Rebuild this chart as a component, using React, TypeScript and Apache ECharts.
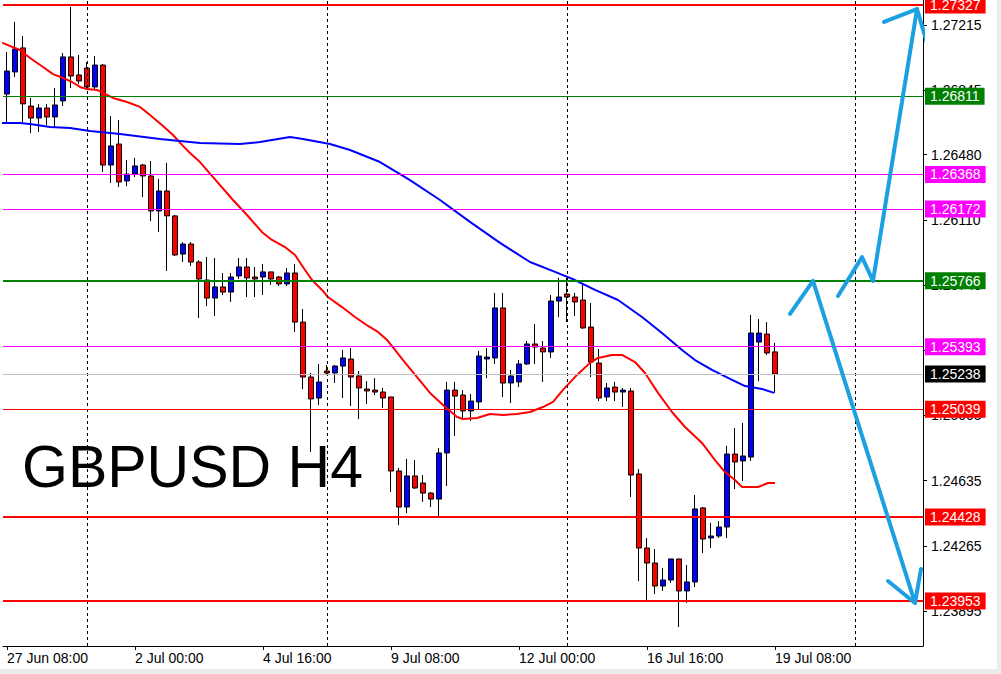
import React, { useEffect, useRef } from "react";
import * as echarts from "echarts";

// ---------- data ----------
const barCount = 115; // bar slots on the time axis (97 real bars + future space)
const xTickIdx = [0, 16, 32, 48, 64, 80, 96];
const xTickLabels = ["27 Jun 08:00", "2 Jul 00:00", "4 Jul 16:00", "9 Jul 08:00", "12 Jul 00:00", "16 Jul 16:00", "19 Jul 08:00"];
const gridLineIdx = [10, 40, 70, 106];
const yTickValues = [1.27215, 1.26845, 1.2648, 1.2611, 1.2574, 1.25375, 1.25005, 1.24635, 1.24265, 1.23895];

const opens = [
  1.26823, 1.26948, 1.27084, 1.26755, 1.26687, 1.26744, 1.26693, 1.26784, 1.27033, 1.26931,
  1.2697, 1.26863, 1.26987, 1.26421, 1.2654, 1.26331, 1.2637, 1.26421, 1.26359, 1.26161,
  1.26274, 1.26133, 1.25917, 1.25974, 1.25872, 1.2577, 1.25668, 1.25731, 1.25702, 1.25793,
  1.25844, 1.25787, 1.25787, 1.25816, 1.25787, 1.25748, 1.2581, 1.25532, 1.25221, 1.25102,
  1.25255, 1.25244, 1.25283, 1.25323, 1.25227, 1.25153, 1.25147, 1.25136, 1.25108, 1.24689,
  1.24485, 1.24661, 1.24621, 1.24564, 1.2453, 1.24791, 1.25147, 1.25119, 1.25029, 1.2508,
  1.25323, 1.25329, 1.25612, 1.25187, 1.25193, 1.25295, 1.25408, 1.25385, 1.25363, 1.25651,
  1.25691, 1.25674, 1.25657, 1.25504, 1.253, 1.25108, 1.25164, 1.25136, 1.25142, 1.24672,
  1.24253, 1.24168, 1.24038, 1.24072, 1.24191, 1.2401, 1.24061, 1.2448, 1.2431, 1.24321,
  1.24372, 1.24785, 1.24746, 1.24768, 1.25419, 1.25464, 1.25363,
];
const highs = [
  1.27061, 1.27231, 1.27152, 1.26801, 1.26767, 1.26767, 1.26857, 1.27055, 1.27316, 1.27044,
  1.27004, 1.27038, 1.26993, 1.26699, 1.26676, 1.26449, 1.26461, 1.26427, 1.26444, 1.26342,
  1.26433, 1.26138, 1.25985, 1.25985, 1.25883, 1.259, 1.25895, 1.2581, 1.2581, 1.25895,
  1.25895, 1.25844, 1.25861, 1.25816, 1.25793, 1.25838, 1.25861, 1.25606, 1.25244, 1.25295,
  1.25289, 1.25289, 1.25374, 1.25385, 1.25255, 1.25198, 1.25215, 1.25159, 1.25108, 1.24706,
  1.24757, 1.24751, 1.24666, 1.2457, 1.24819, 1.25193, 1.25193, 1.25147, 1.25125, 1.25368,
  1.25385, 1.25697, 1.25697, 1.25261, 1.25317, 1.25425, 1.25521, 1.25425, 1.25685, 1.25782,
  1.25782, 1.25697, 1.25753, 1.2564, 1.2538, 1.25187, 1.25193, 1.25159, 1.25159, 1.247,
  1.2431, 1.24247, 1.2414, 1.24191, 1.24191, 1.24157, 1.24553, 1.24485, 1.24395, 1.24406,
  1.24831, 1.24932, 1.24961, 1.25572, 1.25549, 1.25532, 1.25414,
];
const lows = [
  1.26665, 1.26919, 1.26665, 1.26602, 1.26608, 1.26648, 1.26636, 1.26755, 1.26857, 1.2688,
  1.26846, 1.26846, 1.26382, 1.26319, 1.26297, 1.26302, 1.26353, 1.2624, 1.26104, 1.26042,
  1.25821, 1.25906, 1.25872, 1.2585, 1.25555, 1.25623, 1.25566, 1.25685, 1.25646, 1.25776,
  1.25674, 1.25674, 1.25685, 1.25742, 1.25736, 1.25736, 1.25476, 1.25153, 1.24797, 1.25063,
  1.25238, 1.25187, 1.25102, 1.25057, 1.24983, 1.25068, 1.25119, 1.25046, 1.2457, 1.24383,
  1.24451, 1.24587, 1.24514, 1.24485, 1.24434, 1.24604, 1.24887, 1.24978, 1.24972, 1.2504,
  1.25215, 1.25295, 1.25108, 1.25074, 1.25164, 1.25289, 1.25295, 1.25193, 1.25329, 1.25561,
  1.25532, 1.25566, 1.25493, 1.25221, 1.25085, 1.25085, 1.25085, 1.25051, 1.24542, 1.24066,
  1.23959, 1.23993, 1.2401, 1.24055, 1.23806, 1.23942, 1.24032, 1.24225, 1.24253, 1.2431,
  1.2431, 1.24587, 1.24632, 1.24746, 1.25198, 1.25346, 1.25131,
];
const closes = [
  1.26953, 1.27078, 1.26767, 1.26687, 1.26744, 1.26693, 1.26761, 1.27033, 1.26925, 1.26897,
  1.26863, 1.26987, 1.26421, 1.26529, 1.26325, 1.2637, 1.26416, 1.26359, 1.26161, 1.26274,
  1.26133, 1.25912, 1.25974, 1.25872, 1.25776, 1.25668, 1.25731, 1.25702, 1.25787, 1.25844,
  1.25782, 1.25776, 1.25816, 1.25776, 1.25748, 1.2581, 1.25532, 1.25221, 1.25097, 1.25193,
  1.25244, 1.25283, 1.25329, 1.25221, 1.25159, 1.25142, 1.25136, 1.25102, 1.24689, 1.24485,
  1.24661, 1.24593, 1.24564, 1.2453, 1.24791, 1.25147, 1.25113, 1.25029, 1.25085, 1.2534,
  1.25334, 1.25612, 1.25187, 1.25227, 1.25295, 1.25408, 1.25391, 1.25363, 1.25651, 1.25674,
  1.25674, 1.25646, 1.25499, 1.25306, 1.25102, 1.25159, 1.25136, 1.25147, 1.24666, 1.24253,
  1.24168, 1.24038, 1.24072, 1.24191, 1.2401, 1.24061, 1.24474, 1.24304, 1.24321, 1.24372,
  1.24785, 1.2474, 1.24774, 1.2547, 1.2547, 1.25357, 1.25238,
];

// moving averages: [bar position, price]
const maRed = [
  [-0.875, 1.27118], [1.625, 1.27072], [2.875, 1.27027], [4.5, 1.26976], [5.75, 1.26936],
  [7.0, 1.26914], [8.125, 1.26891], [9.125, 1.26863], [10.0, 1.26851], [11.25, 1.26846],
  [12.0, 1.26829], [13.25, 1.26801], [15.0, 1.26778], [16.625, 1.2675], [17.875, 1.26704],
  [19.5, 1.26642], [20.75, 1.26591], [21.875, 1.26535], [22.875, 1.26489], [24.125, 1.26438],
  [25.75, 1.26353], [28.25, 1.26223], [30.0, 1.26138], [32.0, 1.26036], [33.125, 1.25997],
  [34.75, 1.25957], [36.0, 1.25912], [37.25, 1.25827], [38.125, 1.2577], [39.375, 1.25714],
  [40.125, 1.25674], [41.875, 1.25617], [43.5, 1.25561], [45.125, 1.2551], [46.375, 1.25476],
  [47.5, 1.25431], [48.5, 1.25374], [49.5, 1.25317], [51.25, 1.25221], [52.875, 1.25131],
  [54.5, 1.25063], [56.25, 1.24995], [57.0, 1.24983], [58.75, 1.24989], [60.375, 1.25012],
  [62.0, 1.25006], [63.75, 1.25012], [65.375, 1.25023], [67.0, 1.25051], [68.25, 1.2508],
  [69.5, 1.25148], [71.25, 1.25233], [72.875, 1.25301], [73.875, 1.25329], [75.625, 1.25346],
  [76.875, 1.25346], [78.5, 1.25306], [79.75, 1.25244], [81.375, 1.25131], [83.125, 1.25023],
  [84.75, 1.24938], [86.875, 1.24848], [88.5, 1.24751], [89.75, 1.24683], [91.0, 1.24638],
  [91.875, 1.24598], [93.875, 1.24598], [95.125, 1.24621], [96.0, 1.24621],
];
const maBlue = [
  [-0.875, 1.26659], [1.625, 1.26659], [2.875, 1.26653], [5.375, 1.26636], [7.875, 1.26631],
  [10.375, 1.26614], [14.125, 1.26597], [19.125, 1.26569], [24.125, 1.26546], [29.125, 1.2654],
  [31.625, 1.26551], [35.375, 1.2658], [37.0, 1.26568], [40.375, 1.2654], [42.875, 1.26506],
  [46.625, 1.26438], [50.375, 1.26336], [54.125, 1.26223], [57.875, 1.26099], [61.625, 1.2598],
  [65.375, 1.25872], [68.5, 1.25816], [71.0, 1.2577], [73.5, 1.25714], [76.375, 1.25657],
  [79.375, 1.25561], [81.875, 1.2547], [84.375, 1.25374], [86.0, 1.25317], [88.125, 1.25261],
  [90.125, 1.25216], [92.25, 1.2517], [94.375, 1.25153], [95.875, 1.25131],
];

// hand-drawn arrows: [bar position, price]
const arrow1Main = [[97.875, 1.25578], [100.75, 1.25765], [113.5, 1.23942]];
const arrow1Head = [[110.125, 1.24066], [113.5, 1.23942], [114.25, 1.24134]];
const arrow2Main = [[103.875, 1.2568], [106.875, 1.259], [108.25, 1.25765], [113.75, 1.27304]];
const arrow2Head = [[109.625, 1.27231], [113.75, 1.27304], [115.375, 1.27055]];

// horizontal levels
const levelPrices = [1.27327, 1.26811, 1.26368, 1.26172, 1.25766, 1.25393, 1.25238, 1.25039, 1.24428, 1.23953];
const levelColors = ["#ff0000", "#008000", "#ff00ff", "#ff00ff", "#008000", "#ff00ff", "#c0c0c0", "#ff0000", "#ff0000", "#ff0000"];
const levelWidths = [2, 1, 1, 1, 2, 1, 1, 1, 2, 2];
const levelLabelBg = ["#ff0000", "#008000", "#ff00ff", "#ff00ff", "#008000", "#ff00ff", "#000000", "#ff0000", "#ff0000", "#ff0000"];

const Y_MIN = 1.236983;
const Y_MAX = 1.273553;
const ARROW_COLOR = "#1ba1e2";

export default function App() {
  const ref = useRef<HTMLDivElement>(null);

  useEffect(() => {
    if (!ref.current) return;
    const chart = echarts.init(ref.current, undefined, { renderer: "svg" });

    const cats = Array.from({ length: barCount }, (_, i) => String(i));
    const candleData = opens.map((o, i) => [o, closes[i], lows[i], highs[i]]);

    const arrowSeries = (data: number[][]) => ({
      type: "line",
      xAxisIndex: 1,
      yAxisIndex: 0,
      data,
      symbol: "none",
      clip: false,
      silent: true,
      z: 10,
      lineStyle: { color: ARROW_COLOR, width: 4, cap: "round", join: "round" },
    });

    const option: any = {
      animation: false,
      backgroundColor: "#ffffff",
      grid: { left: 3, right: 78, top: 0, bottom: 28, containLabel: false },
      xAxis: [
        {
          type: "category",
          data: cats,
          boundaryGap: true,
          axisLine: { show: true, onZero: false, lineStyle: { color: "#000", width: 1 } },
          axisTick: {
            show: true,
            alignWithLabel: true,
            length: 4,
            interval: (idx: number) => xTickIdx.includes(idx),
            lineStyle: { color: "#000" },
          },
          axisLabel: {
            show: true,
            interval: (idx: number) => xTickIdx.includes(idx),
            formatter: (val: string) => {
              const k = xTickIdx.indexOf(Number(val));
              return k >= 0 ? xTickLabels[k] : "";
            },
            align: "left",
            margin: 5,
            color: "#000",
            fontSize: 14,
            fontFamily: "'Liberation Sans Narrow', 'Liberation Sans', sans-serif",
          },
          splitLine: { show: false },
        },
        {
          type: "value",
          min: -0.5,
          max: barCount - 0.5,
          show: false,
          axisLine: { show: false, onZero: false },
          splitLine: { show: false },
        },
      ],
      yAxis: {
        type: "value",
        position: "right",
        min: Y_MIN,
        max: Y_MAX,
        scale: true,
        axisLine: { show: true, onZero: false, lineStyle: { color: "#000", width: 1 } },
        axisTick: {
          show: true,
          length: 4,
          customValues: yTickValues,
          lineStyle: { color: "#000" },
        },
        axisLabel: {
          show: true,
          customValues: yTickValues,
          formatter: (v: number) => v.toFixed(5),
          margin: 8,
          color: "#000",
          fontSize: 14,
          fontFamily: "'Liberation Sans', sans-serif",
        },
        splitLine: { show: false },
      },
      graphic: [
        {
          type: "text",
          left: 22,
          top: 437,
          silent: true,
          z: 5,
          style: {
            text: "GBPUSD H4",
            fill: "#000",
            font: "59px 'Liberation Sans', Arial, sans-serif",
          },
        },
        { type: "rect", shape: { x: 997, y: 0, width: 4, height: 674 }, style: { fill: "#ececec" }, silent: true },
        { type: "rect", shape: { x: 0, y: 669, width: 1001, height: 5 }, style: { fill: "#ececec" }, silent: true },
      ],
      series: [
        {
          type: "candlestick",
          xAxisIndex: 0,
          yAxisIndex: 0,
          data: candleData,
          barWidth: 5,
          silent: true,
          itemStyle: {
            color: "#0000ff",
            color0: "#ff0000",
            borderColor: "#000000",
            borderColor0: "#000000",
            borderWidth: 1,
          },
        },
        {
          type: "line",
          xAxisIndex: 1,
          yAxisIndex: 0,
          data: maRed,
          symbol: "none",
          silent: true,
          lineStyle: { color: "#ff0000", width: 2 },
          markLine: {
            silent: true,
            symbol: ["none", "none"],
            label: { show: false },
            lineStyle: { color: "#000", width: 1, type: [3, 3] },
            data: gridLineIdx.map((g) => ({ xAxis: g })),
          },
        },
        {
          type: "line",
          xAxisIndex: 1,
          yAxisIndex: 0,
          data: maBlue,
          symbol: "none",
          silent: true,
          z: 3,
          lineStyle: { color: "#0000ff", width: 2 },
          markLine: {
            silent: true,
            symbol: ["none", "none"],
            precision: 5,
            data: levelPrices.map((p, i) => ({
              yAxis: p,
              lineStyle: { color: levelColors[i], width: levelWidths[i], type: "solid" },
              label: {
                show: true,
                position: "end",
                distance: 2,
                formatter: () => p.toFixed(5),
                color: "#ffffff",
                backgroundColor: levelLabelBg[i],
                padding: [2, 5, 1, 5],
                fontSize: 14,
                fontFamily: "'Liberation Sans', sans-serif",
              },
            })),
          },
        },
        arrowSeries(arrow1Main),
        arrowSeries(arrow1Head),
        arrowSeries(arrow2Main),
        arrowSeries(arrow2Head),
      ],
    };

    chart.setOption(option);
    return () => chart.dispose();
  }, []);

  return (
    <div
      ref={ref}
      style={{ position: "absolute", left: 0, top: 0, width: 1001, height: 674, background: "#fff" }}
    />
  );
}
